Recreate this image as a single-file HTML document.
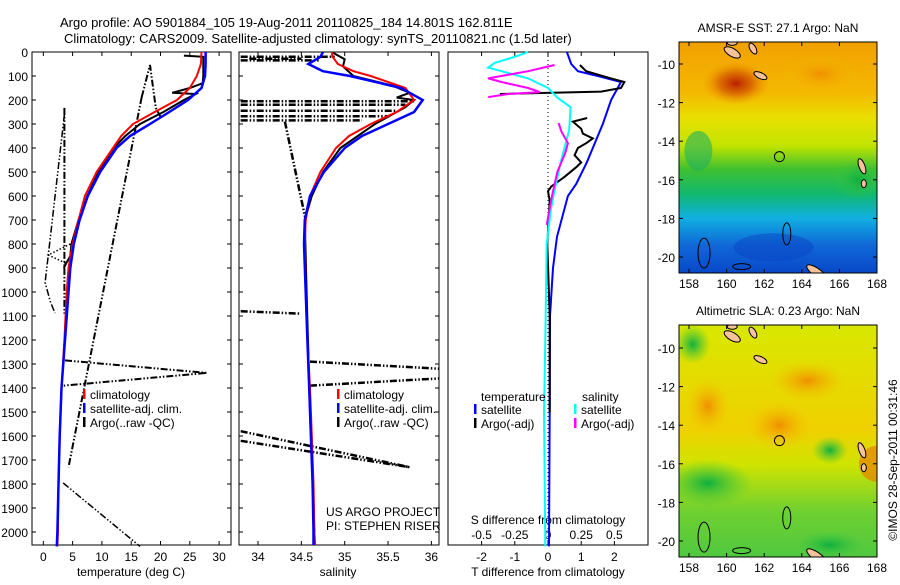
<!DOCTYPE html>
<html><head><meta charset="utf-8"><style>
body{margin:0;background:#fff;}
svg text{font-family:"Liberation Sans",sans-serif;font-size:12px;fill:#000;}
</style></head><body>
<svg id="s" width="900" height="580" xmlns="http://www.w3.org/2000/svg">
<defs>
<linearGradient id="sstg" x1="0" y1="0" x2="0" y2="1">
<stop offset="0" stop-color="#f0a000"/><stop offset="0.22" stop-color="#f5b800"/>
<stop offset="0.33" stop-color="#e8e000"/><stop offset="0.45" stop-color="#c0e400"/>
<stop offset="0.55" stop-color="#40c030"/><stop offset="0.66" stop-color="#10b870"/>
<stop offset="0.76" stop-color="#10b0e0"/><stop offset="0.88" stop-color="#1068d8"/>
<stop offset="1" stop-color="#0848c8"/></linearGradient>
<radialGradient id="hot"><stop offset="0" stop-color="#b82000"/><stop offset="0.5" stop-color="#d86000" stop-opacity="0.8"/><stop offset="1" stop-color="#f0a000" stop-opacity="0"/></radialGradient>
<radialGradient id="org"><stop offset="0" stop-color="#f09000"/><stop offset="1" stop-color="#f5c000" stop-opacity="0"/></radialGradient>
<radialGradient id="grn"><stop offset="0" stop-color="#10b040"/><stop offset="1" stop-color="#40c840" stop-opacity="0"/></radialGradient>
<linearGradient id="slag" x1="0" y1="0" x2="0" y2="1">
<stop offset="0" stop-color="#d8e800"/><stop offset="0.45" stop-color="#f0d000"/>
<stop offset="0.6" stop-color="#d0e400"/><stop offset="0.8" stop-color="#70d030"/><stop offset="1" stop-color="#50c840"/></linearGradient>
<clipPath id="c1"><rect x="679" y="42" width="198" height="231"/></clipPath>
<clipPath id="c2"><rect x="679" y="325" width="198" height="232"/></clipPath>
</defs>
<text x="60" y="27" style="font-size:13px">Argo profile: AO 5901884_105 19-Aug-2011 20110825_184 14.801S 162.811E</text>
<text x="64" y="43" style="font-size:13px">Climatology: CARS2009. Satellite-adjusted climatology: synTS_20110821.nc (1.5d later)</text>
<g id="g"></g>
</svg>
<script>
// ---------- data ----------
const depthT = [0,50,100,150,200,250,300,350,400,500,600,700,800,900,1000,1200,1400,1600,1800,2000,2060];
const tempClim = [27,26.9,26.2,25,22.8,19,15.3,13.3,11.9,9.1,7.1,6.0,5.0,4.3,4.0,3.6,3.1,2.8,2.6,2.5,2.4];
const tempSat  = [27.7,27.7,27.6,27,24.7,21.5,18.2,14.8,12.5,9.7,7.6,6.2,5.2,4.6,4.3,3.7,3.1,2.8,2.6,2.4,2.3];
const depthArgoT = [15,20,50,100,130,150,170,175,200,250,300,350,400,500,600,700,800,850,880,900];
const tempArgo  = [24,27.3,27.3,27.3,27.2,25,22,26,24,20.5,16.5,14,12,9.4,7.5,6.0,4.8,4.6,3.9,3.5];
const rawT1d = [188,54,233,270]; const rawT1v = [16.8,18.2,19.2,20];
const rawT2d = [188,1000,1730]; const rawT2v = [16.8,10.2,4.3];
const rawT3d = [233,1090]; const rawT3v = [3.6,3.6];
const rawT4d = [260,846,960,1040,1088]; const rawT4v = [3.6,0.85,0.3,1.2,2.0];
const rawT5d = [800,846,880]; const rawT5v = [4.6,0.85,3.8];
const rawT6d = [1285,1337,1390]; const rawT6v = [3.7,27.9,3.5];
const rawT7d = [1796,2060]; const rawT7v = [3.4,16.5];

const depthS = [0,20,50,80,100,150,200,250,300,350,400,500,600,700,800,1000,1200,1400,1600,1800,2000,2060];
const salClim = [34.85,34.86,34.92,35.1,35.3,35.7,35.8,35.6,35.3,35.05,34.9,34.72,34.6,34.55,34.54,34.55,34.57,34.6,34.62,34.64,34.65,34.66];
const salSat  = [34.75,34.72,34.58,34.75,35.06,35.65,35.9,35.8,35.5,35.2,35.0,34.76,34.6,34.54,34.53,34.55,34.57,34.59,34.61,34.63,34.64,34.64];
const depthArgoS = [0,30,60,100,140,170,190,200,230,300,400,500,600,700,1000,1500,2000];
const salArgo = [34.85,35.0,34.98,35.1,35.55,35.75,35.6,35.8,35.7,35.35,34.95,34.75,34.62,34.54,34.56,34.6,34.65];
const rawS = [
 [[20,33.8],[20,34.9]],[[35,33.8],[35,34.7]],[[28,33.9],[28,34.5]],
 [[205,33.8],[205,35.8]],[[220,33.8],[220,35.7]],[[245,33.8],[245,35.6]],[[268,33.8],[268,35.5]],[[285,33.8],[285,35.2]],
 [[290,34.31],[700,34.55]],[[1080,33.8],[1090,34.48]],[[1290,34.6],[1320,36.1]],[[1390,34.6],[1360,36.1]],
 [[1580,33.8],[1730,35.75]],[[1620,33.8],[1730,35.75]]];

const depthD = [0,50,80,100,125,150,200,300,350,460,550,600,770,900,1100,1500,2060];
const tDiffSat = [0.57,0.7,0.9,1.5,2.2,2.1,1.9,1.65,1.5,1.17,0.85,0.6,0.27,0.15,0.06,0.05,0.03];
const depthDA = [54,80,110,125,150,165,175,null,275,290,320,340,360,380,400,430,460,480,520,560,580,620,800,1100,1500];
const tDiffArgo = [0.96,1.15,1.9,2.3,2.2,1.6,-1.45,null,1.18,0.75,1.0,1.05,1.35,1.15,0.9,0.8,1.0,0.85,0.5,0.1,0.0,0.05,-0.02,0.05,0.05];
const depthSD = [0,20,45,65,80,110,150,190,230,325,450,575,660,800,1200,1500,2060];
const sDiffSat = [-0.15,-0.25,-0.4,-0.45,-0.35,-0.15,0.0,0.07,0.17,0.16,0.1,0.05,0.02,-0.01,-0.02,-0.03,-0.02];
const depthSDA = [54,80,110,125,150,167,175,188,null,296,330,380,420,500,600,720];
const sDiffArgo = [0.05,-0.15,-0.45,-0.35,-0.15,-0.06,-0.3,-0.45,null,0.08,0.1,0.15,0.13,0.07,0.03,-0.01];

const depthTicks = [0,100,200,300,400,500,600,700,800,900,1000,1100,1200,1300,1400,1500,1600,1700,1800,1900,2000];
const tempTicks = [0,5,10,15,20,25,30];
const salTicks = [34,34.5,35,35.5,36];
const salTickLabels = ["34","34.5","35","35.5","36"];
const tdTicks = [-2,-1,0,1,2];
const sdTicks = [-0.5,-0.25,0,0.25,0.5];
const sdTickLabels = ["-0.5","-0.25","0","0.25","0.5"];
const lonTicks = [158,160,162,164,166,168];
const latTicks = [-10,-12,-14,-16,-18,-20];

// ---------- scales ----------
const Y0=52, YS=0.24;
const yD = d => Y0 + d*YS;
const xT = t => 43.3 + t*5.86;
const xS = s => 258 + (s-34)*86.7;
const xTD = t => 548 + t*33.2;
const xSD = s => 548 + s*132.8;
const lonX = l => 689 + (l-158)*18.8;
const latY1 = l => 64 + (-10-l)*19.3;
const latY2 = l => 348 + (-10-l)*19.3;

const NS="http://www.w3.org/2000/svg";
const G=document.getElementById('g');
function mk(tag,attrs,parent){const e=document.createElementNS(NS,tag);for(const k in attrs)e.setAttribute(k,attrs[k]);(parent||G).appendChild(e);return e;}
function txt(x,y,s,anchor,name,size){const e=mk('text',{x:x,y:y,'text-anchor':anchor||'start'});if(size)e.style.fontSize=size+'px';e.textContent=s;


return e;}
function line(depths,vals,xf,color,w,dash,name){
  let d='',pen=false;
  for(let i=0;i<depths.length;i++){
    if(depths[i]===null||vals[i]===null){pen=false;continue;}
    d+=(pen?'L':'M')+xf(vals[i]).toFixed(1)+' '+yD(depths[i]).toFixed(1);pen=true;
  }
  const p=mk('path',{d:d,fill:'none',stroke:color,'stroke-width':w});
  if(dash)p.setAttribute('stroke-dasharray',dash);
  
  
  return p;
}
function frame(x1,x2,y1,y2,name){
  const r=mk('rect',{x:x1,y:y1,width:x2-x1,height:y2-y1,fill:'none',stroke:'#000','stroke-width':1});
  
  
}
const YB=545;
// panel 1 temperature
frame(32,231,Y0,YB,'temperature-panel-frame');
depthTicks.forEach(d=>{mk('line',{x1:32,x2:36,y1:yD(d),y2:yD(d),stroke:'#000'});mk('line',{x1:227,x2:231,y1:yD(d),y2:yD(d),stroke:'#000'});
 txt(28,yD(d)+5,String(d),'end','depth-tick-label');});
tempTicks.forEach(t=>{mk('line',{x1:xT(t),x2:xT(t),y1:YB,y2:YB-4,stroke:'#000'});mk('line',{x1:xT(t),x2:xT(t),y1:Y0,y2:Y0+4,stroke:'#000'});
 txt(xT(t),561,String(t),'middle','temperature-tick-label');});
txt(131,576,'temperature (deg C)','middle','temperature-axis-title');
const DD='7,2,1.5,2,1.5,2';
line(rawT1d,rawT1v,xT,'#000',2,DD,'argo-raw-temp-1');
line(rawT2d,rawT2v,xT,'#000',2,DD,'argo-raw-temp-2');
line(rawT3d,rawT3v,xT,'#000',2,DD,'argo-raw-temp-3');
line(rawT4d,rawT4v,xT,'#000',1.5,DD,'argo-raw-temp-4');
line(rawT5d,rawT5v,xT,'#000',1.5,'1.5,2','argo-raw-temp-5');
line(rawT6d,rawT6v,xT,'#000',2,DD,'argo-raw-temp-6');
line(rawT7d,rawT7v,xT,'#000',1.5,DD,'argo-raw-temp-7');
line(depthArgoT,tempArgo,xT,'#000',2,null,'argo-temp-line');
line(depthT,tempClim,xT,'#f00',2,null,'climatology-temp-line');
line(depthT,tempSat,xT,'#00f',2.5,null,'satellite-temp-line');
function legend(x,y,items,name){
  items.forEach((it,i)=>{mk('rect',{x:x,y:y+i*14-11,width:2.5,height:10,fill:it[1]});
   txt(x+7,y+i*14-1,it[0],'start',name+'-entry');});
}
legend(83,400,[['climatology','#f00'],['satellite-adj. clim.','#00f'],['Argo(..raw -QC)','#000']],'temp-legend');

// panel 2 salinity
frame(239,439,Y0,YB,'salinity-panel-frame');
depthTicks.forEach(d=>{mk('line',{x1:239,x2:243,y1:yD(d),y2:yD(d),stroke:'#000'});mk('line',{x1:435,x2:439,y1:yD(d),y2:yD(d),stroke:'#000'});});
salTicks.forEach((s,i)=>{mk('line',{x1:xS(s),x2:xS(s),y1:YB,y2:YB-4,stroke:'#000'});mk('line',{x1:xS(s),x2:xS(s),y1:Y0,y2:Y0+4,stroke:'#000'});
 txt(xS(s),561,salTickLabels[i],'middle','salinity-tick-label');});
txt(338,576,'salinity','middle','salinity-axis-title');
const cp=mk('clipPath',{id:'cs'});mk('rect',{x:239,y:Y0,width:200,height:YB-Y0},cp);
const gS=mk('g',{'clip-path':'url(#cs)'});
rawS.forEach(seg=>{const p=line(seg.map(a=>a[0]),seg.map(a=>a[1]),xS,'#000',2.5,DD,'argo-raw-salinity');gS.appendChild(p);});
[line(depthArgoS,salArgo,xS,'#000',2,null,'argo-salinity-line'),
 line(depthS,salClim,xS,'#f00',2,null,'climatology-salinity-line'),
 line(depthS,salSat,xS,'#00f',2.5,null,'satellite-salinity-line')].forEach(p=>gS.appendChild(p));
legend(337,400,[['climatology','#f00'],['satellite-adj. clim.','#00f'],['Argo(..raw -QC)','#000']],'sal-legend');
txt(326,516,'US ARGO PROJECT','start','project-label');
txt(326,530,'PI: STEPHEN RISER','start','pi-label');

// panel 3 differences
frame(448,648,Y0,YB,'difference-panel-frame');
tdTicks.forEach(t=>{mk('line',{x1:xTD(t),x2:xTD(t),y1:YB,y2:YB-4,stroke:'#000'});mk('line',{x1:xTD(t),x2:xTD(t),y1:Y0,y2:Y0+4,stroke:'#000'});
 txt(xTD(t),561,String(t),'middle','t-diff-tick-label');});
sdTicks.forEach((s,i)=>txt(xSD(s),539,sdTickLabels[i],'middle','s-diff-tick-label'));
txt(548,524,'S difference from climatology','middle','s-diff-axis-title');
txt(548,576,'T difference from climatology','middle','t-diff-axis-title');
mk('line',{x1:548,x2:548,y1:Y0,y2:YB,stroke:'#000','stroke-dasharray':'1,3'});
line(depthD,tDiffSat,xTD,'#00f',2,null,'satellite-t-diff-line');
line(depthDA,tDiffArgo,xTD,'#000',2,null,'argo-t-diff-line');
line(depthSD,sDiffSat,xSD,'#0ff',2,null,'satellite-s-diff-line');
line(depthSDA,sDiffArgo,xSD,'#f0f',2,null,'argo-s-diff-line');
txt(481,401,'temperature','start','diff-legend-temp-header');
txt(582,401,'salinity','start','diff-legend-sal-header');
legend(474,415,[['satellite','#00f'],['Argo(-adj)','#000']],'t-diff-legend');
legend(574,415,[['satellite','#0ff'],['Argo(-adj)','#f0f']],'s-diff-legend');

// maps
function map(top,bot,latY,title,clip,kind){
  const g=mk('g',{'clip-path':'url('+clip+')'});
  
  
  if(kind==='sst'){
    mk('rect',{x:679,y:top,width:198,height:bot-top,fill:'url(#sstg)'},g);
    mk('ellipse',{cx:lonX(160.5),cy:latY(-11),rx:34,ry:22,fill:'url(#hot)'},g);
    mk('ellipse',{cx:lonX(165),cy:latY(-10.5),rx:40,ry:20,fill:'url(#org)'},g);
    mk('ellipse',{cx:lonX(158.5),cy:latY(-14.5),rx:14,ry:20,fill:'#20b060',opacity:0.6},g);
    mk('ellipse',{cx:lonX(167),cy:latY(-16),rx:25,ry:20,fill:'url(#grn)'},g);
    mk('ellipse',{cx:lonX(162.5),cy:latY(-19.5),rx:40,ry:14,fill:'#0840c0',opacity:0.45},g);
  } else {
    mk('rect',{x:679,y:top,width:198,height:bot-top,fill:'url(#slag)'},g);
    mk('ellipse',{cx:lonX(158.2),cy:latY(-9.8),rx:18,ry:20,fill:'url(#grn)'},g);
    mk('ellipse',{cx:lonX(159),cy:latY(-13),rx:22,ry:28,fill:'url(#org)'},g);
    mk('ellipse',{cx:lonX(162.8),cy:latY(-14),rx:32,ry:24,fill:'url(#org)'},g);
    mk('ellipse',{cx:lonX(164.3),cy:latY(-11.7),rx:38,ry:20,fill:'url(#org)'},g);
    mk('ellipse',{cx:lonX(168),cy:latY(-16),rx:18,ry:18,fill:'#e88000',opacity:0.7},g);
    mk('ellipse',{cx:lonX(159),cy:latY(-17),rx:45,ry:24,fill:'url(#grn)'},g);
    mk('ellipse',{cx:lonX(165.5),cy:latY(-15.3),rx:18,ry:14,fill:'url(#grn)'},g);
    mk('ellipse',{cx:lonX(165.5),cy:latY(-20.2),rx:35,ry:14,fill:'url(#grn)'},g);
  }
  const land=[[160.3,-9.4,9,4,30],[161.4,-9.2,3,6,-30],[161.8,-10.6,7,3,25],[167.2,-15.3,3,8,-20],[167.3,-16.2,2.5,4,0],[164.8,-20.8,12,4,35],[160.3,-8.9,5,2.5,0]];
  land.forEach(l=>mk('ellipse',{cx:lonX(l[0]),cy:latY(l[1]),rx:l[2],ry:l[3],transform:'rotate('+l[4]+' '+lonX(l[0])+' '+latY(l[1])+')',fill:'#f5c29a',stroke:'#000','stroke-width':1},g));
  [[158.8,-19.8,6,15],[163.2,-18.8,4,11],[160.8,-20.5,9,3]].forEach(l=>mk('ellipse',{cx:lonX(l[0]),cy:latY(l[1]),rx:l[2],ry:l[3],fill:'none',stroke:'#000','stroke-width':1},g));
  const c=mk('circle',{cx:lonX(162.81),cy:latY(-14.8),r:5,fill:'none',stroke:'#000'},g);
  
  
  frame(679,877,top,bot,kind+'-map-frame');
  lonTicks.forEach(l=>{mk('line',{x1:lonX(l),x2:lonX(l),y1:bot,y2:bot-4,stroke:'#000'});mk('line',{x1:lonX(l),x2:lonX(l),y1:top,y2:top+4,stroke:'#000'});
   txt(lonX(l),bot+15,String(l),'middle',kind+'-lon-tick-label');});
  latTicks.forEach(l=>{mk('line',{x1:679,x2:683,y1:latY(l),y2:latY(l),stroke:'#000'});mk('line',{x1:873,x2:877,y1:latY(l),y2:latY(l),stroke:'#000'});
   txt(675,latY(l)+5,String(l),'end',kind+'-lat-tick-label');});
  txt(778,top-10,title,'middle',kind+'-map-title');
}
map(42,273,latY1,'AMSR-E SST: 27.1 Argo: NaN','#c1','sst');
map(325,557,latY2,'Altimetric SLA: 0.23 Argo: NaN','#c2','sla');
const cr=txt(0,0,'©IMOS 28-Sep-2011 00:31:46','middle','timestamp-label');
cr.setAttribute('transform','translate(897,460) rotate(-90)');
</script>
</body></html>
